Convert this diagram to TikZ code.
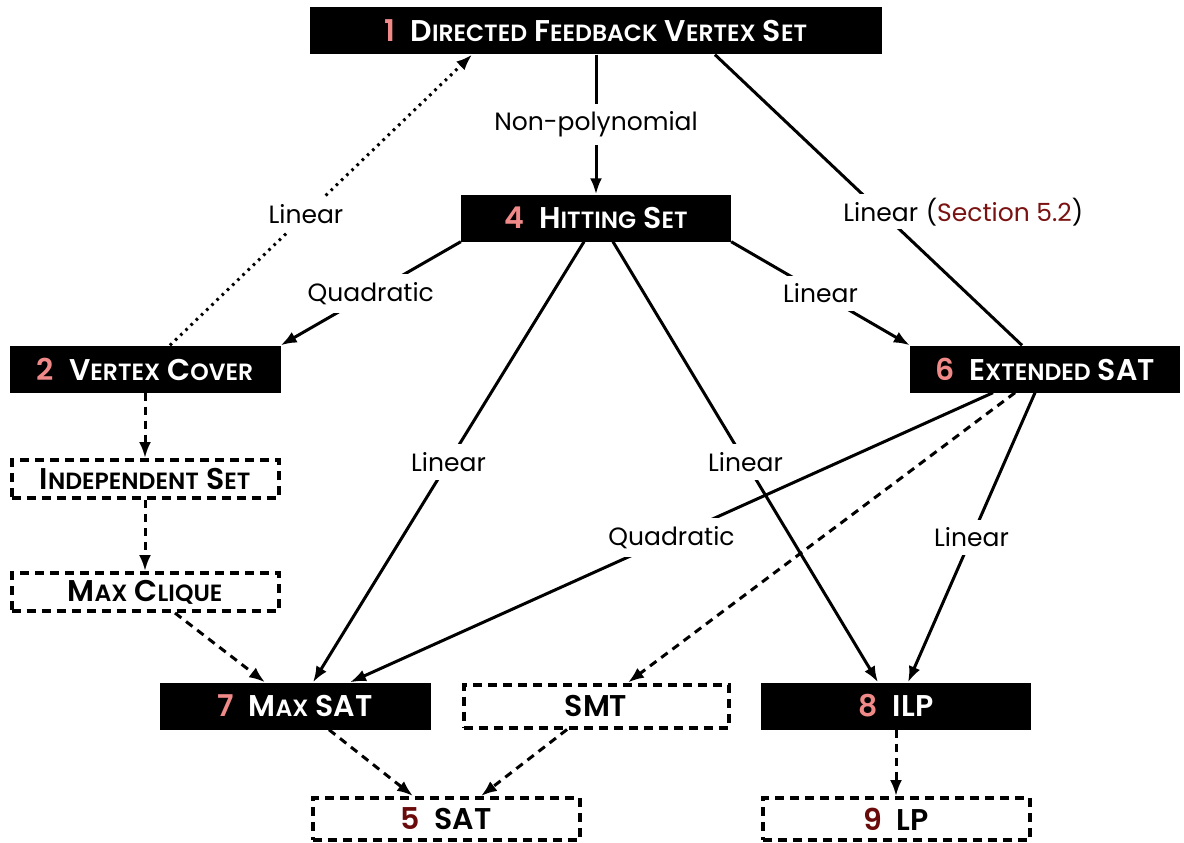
\documentclass[tikz,border=0pt]{standalone}
\usepackage{fontspec}
\setmainfont{Poppins}
\newfontfamily\boxfont{Poppins SemiBold}
\usetikzlibrary{arrows.meta}
\definecolor{numpink}{HTML}{F08A88}
\definecolor{numdark}{HTML}{6A0A0A}
\definecolor{secred}{HTML}{7A1212}

% small capitals imitated with a smaller size of the same face
\newcommand\smc[1]{{\fontsize{23.5}{24}\selectfont #1}}
\newcommand\pnum[1]{{\color{numpink}#1}\hspace{15pt}}
\newcommand\dnum[1]{{\color{numdark}#1}\hspace{15pt}}

\tikzset{
  boxbase/.style={minimum width=271pt, minimum height=47pt, inner sep=0pt,
    font=\boxfont\fontsize{30}{30}\selectfont},
  solidbox/.style={boxbase, fill=black, text=white},
  dashbox/.style={boxbase, draw=black, line width=4pt, dash pattern=on 9pt off 6pt,
    minimum width=267pt, text=black},
  reduce/.style={line width=3pt, -{Latex[length=16pt,width=12pt]}},
  plainline/.style={line width=3pt},
  weak/.style={reduce, dash pattern=on 8pt off 6pt},
  dots/.style={reduce, dash pattern=on 2.6pt off 4.6pt},
  lbl/.style={fill=white, inner sep=8pt, text=black,
    font=\fontsize{25}{25}\selectfont},
}

\begin{document}
\begin{tikzpicture}[x=1pt, y=-1pt]
\useasboundingbox (0,0) rectangle (1184,843);

% problems
\node[solidbox, minimum width=572pt] (n1) at (596,31)
  {\pnum{1}D\smc{IRECTED} F\smc{EEDBACK} V\smc{ERTEX} S\smc{ET}};
\node[solidbox, minimum width=270pt] (n4) at (596,218) {\pnum{4}H\smc{ITTING} S\smc{ET}};
\node[solidbox] (n2) at (145,369) {\pnum{2}V\smc{ERTEX} C\smc{OVER}};
\node[solidbox, minimum width=270pt] (n6) at (1045,369) {\pnum{6}E\smc{XTENDED} SAT};
\node[dashbox, minimum height=38pt] (is) at (145,479) {I\smc{NDEPENDENT} S\smc{ET}};
\node[dashbox, minimum height=38pt] (mc) at (145,592) {M\smc{AX} C\smc{LIQUE}};
\node[solidbox] (n7) at (295,706) {\pnum{7}M\smc{AX} SAT};
\node[dashbox, minimum height=43pt, minimum width=265pt] (smt) at (596,706) {SMT};
\node[dashbox, minimum height=42pt] (n5) at (446,819) {\dnum{5}SAT};
\node[solidbox, minimum width=270pt] (n8) at (896,706) {\pnum{8}ILP};
\node[dashbox, minimum height=42pt] (n9) at (896,819) {\dnum{9}LP};

% reductions
\draw[reduce] (n1.south) -- node[lbl]{Non-polynomial} (n4.north);
\draw[dots] ([xshift=25pt]n2.north) -- node[lbl, pos=0.45]{Linear} ([xshift=-124pt]n1.south);
\draw[plainline] ([xshift=119pt]n1.south) -- node[lbl, pos=0.54] (l16) {Linear} ([xshift=-23pt]n6.north);
\node[lbl, anchor=base west, inner xsep=0pt] (l16b) at ([xshift=-2pt]l16.base east) {(\textcolor{secred}{Section 5.2})};
\draw[reduce] (n4.south west) -- node[lbl]{Quadratic} (n2.north east);
\draw[reduce] (n4.south east) -- node[lbl]{Linear} (n6.north west);
\draw[reduce] ([xshift=-12pt]n4.south) -- node[lbl]{Linear} ([xshift=18pt]n7.north);
\draw[reduce] ([xshift=17pt]n4.south) -- node[lbl]{Linear} ([xshift=-18pt]n8.north);
\draw[reduce] ([xshift=-52pt]n6.south) -- node[lbl]{Quadratic} ([xshift=55pt]n7.north);
\draw[weak] ([xshift=-30pt]n6.south) -- ([xshift=32pt]smt.north);
\draw[reduce] ([xshift=-10pt]n6.south) -- node[lbl]{Linear} ([xshift=12pt]n8.north);
\draw[weak] (n2.south) -- (is.north);
\draw[weak] (is.south) -- (mc.north);
\draw[weak] ([xshift=30pt]mc.south) -- ([xshift=-30pt]n7.north);
\draw[weak] ([xshift=34pt]n7.south) -- ([xshift=-33pt]n5.north);
\draw[weak] ([xshift=-29pt]smt.south) -- ([xshift=35pt]n5.north);
\draw[weak] (n8.south) -- (n9.north);
\end{tikzpicture}
\end{document}
